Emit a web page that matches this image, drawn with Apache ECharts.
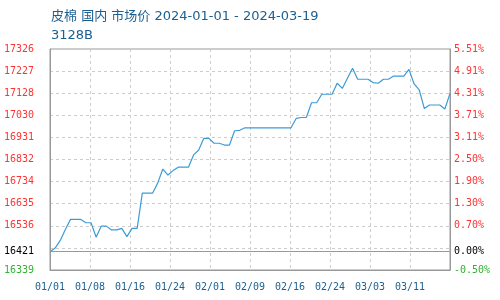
<!DOCTYPE html>
<html>
<head>
<meta charset="utf-8">
<script src="https://cdn.jsdelivr.net/npm/echarts@6/dist/echarts.min.js"></script>
<style>html,body{margin:0;padding:0;background:#fff}#c{width:500px;height:300px}</style>
</head>
<body>
<div id="c"></div>
<script>
const titleText = "皮棉 国内 市场价 2024-01-01 - 2024-03-19";
const subText = "3128B";
const baseValue = 16421;
const yMin = 16339;
const yMax = 17326;
const xTickLabels = ["01/01","01/08","01/16","01/24","02/01","02/09","02/16","02/24","03/03","03/11",""];
const leftTickLabels = ["16339","","16536","16635","16734","16832","16931","17030","17128","17227","17326"];
const rightTickLabels = ["-0.50%","","0.70%","1.30%","1.90%","2.50%","3.11%","3.71%","4.31%","4.91%","5.51%"];
const baseLeftLabel = "16421";
const baseRightLabel = "0.00%";
const prices = [
  16421,16437,16471,16520,16565,16565,16565,16550,16550,16485,
  16535,16535,16518,16518,16525,16488,16525,16525,16682,16682,
  16682,16727,16790,16763,16783,16798,16798,16798,16853,16875,
  16927,16927,16905,16905,16897,16897,16961,16963,16974,16974,
  16974,16974,16974,16974,16974,16974,16974,16974,17016,17020,
  17021,17086,17086,17124,17124,17124,17173,17150,17195,17240,
  17191,17191,17191,17176,17173,17191,17191,17205,17205,17205,
  17235,17170,17143,17060,17076,17076,17076,17058,17128
];

const RED = "#ff3333", GREEN = "#33b033", BLACK = "#000", BLUE = "#1a5f91";
const font = "DejaVu Sans Mono";
const lastIdx = prices.length - 1;
const step = lastIdx / (xTickLabels.length - 1);

function tickColor(v){ return v === 0 ? GREEN : (v === 1 ? BLACK : RED); }

const chart = echarts.init(document.getElementById('c'), null, {renderer:'canvas'});
chart.setOption({
  animation: false,
  backgroundColor: '#fff',
  title: {
    text: titleText + "\n" + subText,
    left: 46, top: 2,
    textStyle: { color: BLUE, fontSize: 13, fontWeight: 'normal', fontFamily: 'DejaVu Sans, Noto Sans CJK SC', lineHeight: 19 }
  },
  grid: { left: 50, right: 50, top: 49, bottom: 30, show: true, borderColor: '#999', borderWidth: 1, backgroundColor: 'transparent' },
  xAxis: {
    type: 'value', min: 0, max: lastIdx, interval: step,
    axisLine: { show: true, lineStyle: { color: '#999' } },
    axisTick: { show: false },
    splitLine: { show: true, lineStyle: { color: '#ccc', type: [3,3] } },
    axisLabel: {
      margin: 12, color: BLUE, fontSize: 10, fontFamily: font, showMaxLabel: true,
      formatter: v => xTickLabels[Math.round(v / step)] || ''
    }
  },
  yAxis: [
    { type: 'value', min: yMin, max: yMax, show: false },
    { type: 'value', min: 0, max: 10, interval: 1, position: 'left',
      axisLine: { show: true, lineStyle: { color: '#999' } },
      axisTick: { show: false },
      splitLine: { show: true, lineStyle: { color: '#ccc', type: [3,3] } },
      axisLabel: { margin: 16, fontSize: 10, fontFamily: font, padding: [0,0,2,0],
        color: (v) => tickColor(Math.round(v)),
        formatter: v => leftTickLabels[Math.round(v)] } },
    { type: 'value', min: 0, max: 10, interval: 1, position: 'right',
      axisLine: { show: true, lineStyle: { color: '#999' } },
      axisTick: { show: false },
      splitLine: { show: false },
      axisLabel: { margin: 4, fontSize: 10, fontFamily: font, padding: [0,0,2,0],
        color: (v) => tickColor(Math.round(v)),
        formatter: v => rightTickLabels[Math.round(v)] } }
  ],
  series: [{
    type: 'line', yAxisIndex: 0, xAxisIndex: 0,
    data: prices.map((p, i) => [i, p]),
    showSymbol: false, symbol: 'none',
    lineStyle: { color: '#3d9bd8', width: 1.2 },
    markLine: {
      silent: true, symbol: 'none',
      lineStyle: { color: '#999', type: 'solid', width: 1 },
      data: [
        { yAxis: baseValue, label: { show: true, position: 'start', distance: 16, formatter: baseLeftLabel, color: BLACK, fontSize: 10, fontFamily: font, padding: [0,0,2,0] } },
        { yAxis: baseValue, label: { show: true, position: 'end', distance: 4, formatter: baseRightLabel, color: BLACK, fontSize: 10, fontFamily: font, padding: [0,0,2,0] } }
      ]
    }
  }]
});
</script>
</body>
</html>
